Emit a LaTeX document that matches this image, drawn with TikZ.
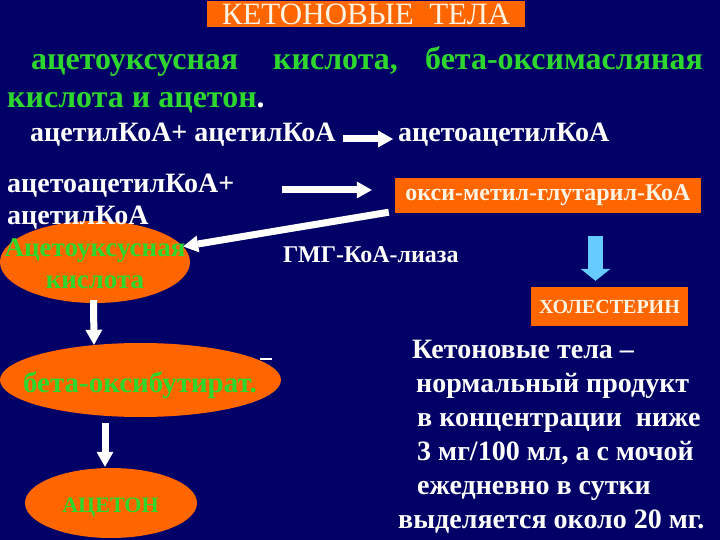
\documentclass[tikz,border=0pt]{standalone}
\usepackage{fontspec}
\setmainfont{Liberation Serif}
\usetikzlibrary{arrows.meta,shapes.geometric,calc}

\definecolor{slidebg}{RGB}{0,0,102}
\definecolor{slideorange}{RGB}{255,102,0}
\definecolor{slidegreen}{RGB}{45,215,45}
\definecolor{cream}{RGB}{255,244,228}
\definecolor{skyarrow}{RGB}{102,204,255}

\newcommand{\txtsize}[1]{\fontsize{#1}{#1}\selectfont}

\tikzset{
  whitetxt/.style={inner sep=0pt, anchor=base west, text=white, font=\bfseries\txtsize{#1}},
  greentxt/.style={inner sep=0pt, anchor=base west, text=slidegreen, font=\bfseries\txtsize{#1}},
  orangebox/.style={fill=slideorange, inner sep=0pt, text=cream},
  orangeell/.style={ellipse, fill=slideorange, inner sep=0pt},
  bigarrow/.style={white, line width=7pt, -{Triangle[width=17pt,length=15pt,line width=0pt]}},
}

\begin{document}
\begin{tikzpicture}[x=1pt,y=-1pt]
\fill[slidebg] (0,0) rectangle (720,540);
\useasboundingbox (0,0) rectangle (720,540);

\node[orangebox, minimum width=318pt, minimum height=26pt, font=\txtsize{31}] at (366,14) (title) {КЕТОНОВЫЕ\ \ ТЕЛА};

% definition
\node[greentxt=32] at (31,70) (defA) {ацетоуксусная};
\node[greentxt=32] at (273,70) (defB) {кислота,};
\node[greentxt=32, anchor=base east] at (703,70) (defC) {бета-оксимасляная};
\node[greentxt=32] at (7,108) (defD) {кислота и ацетон\textcolor{white}{.}};

\node[whitetxt=28] at (30,142) (acetylPair) {ацетилКоА+ ацетилКоА};
\node[whitetxt=28] at (398,142) (acAcCoA) {ацетоацетилКоА};
\draw[bigarrow] ($(acetylPair.base east)+(7,-3)$) -- ($(acAcCoA.base west)+(-5,-3)$);

% left branch
\node[orangeell, minimum width=190pt, minimum height=82pt] at (95,262) (acetoacid) {};
\node[inner sep=0pt, align=center, text=slidegreen, font=\bfseries\fontsize{27}{32}\selectfont] at (95,264) (acetoacidTxt) {Ацетоуксусная\\кислота};

\node[whitetxt=28] at (7,193) (acAcPlus) {ацетоацетилКоА+};
\node[whitetxt=28] at (7,225) (acetylB) {ацетилКоА};

\node[orangebox, minimum width=306pt, minimum height=35pt, font=\bfseries\txtsize{24}] at (548,195.5) (hmgCoA) {окси-метил-глутарил-КоА};
\draw[bigarrow] ($(acAcPlus.base east)+(47,-3)$) -- ($(hmgCoA.west)+(-23,-5.5)$);
\draw[bigarrow] ($(hmgCoA.south west)+(-6,-1)$) -- (acetoacid.10);
\node[whitetxt=24] at (283,262) (lyase) {ГМГ-КоА-лиаза};

\node[orangeell, minimum width=281pt, minimum height=74pt] at (140.5,380) (betaHB) {};
\node[inner sep=0pt, anchor=base, text=slidegreen, font=\bfseries\txtsize{29}] at (140,392) (betaHBTxt) {бета-оксибутират.};
\draw[white, line width=2pt] (260,359) -- (272,359);

\node[orangeell, minimum width=172pt, minimum height=70pt] at (111,503) (acetone) {};
\node[inner sep=0pt, anchor=base, text=slidegreen, font=\bfseries\txtsize{22}] at (110.5,512) (acetoneTxt) {АЦЕТОН};

\draw[bigarrow] ($(acetoacid.south)+(-1.5,-3)$) -- ($(betaHB.north)+(-46.5,2)$);
\draw[bigarrow] ($(betaHB.south)+(-35.5,6)$) -- ($(acetone.north)+(-6,-1)$);

% right branch
\node[orangebox, minimum width=157pt, minimum height=39pt, font=\bfseries\txtsize{20}] at (609.5,306.5) (chol) {ХОЛЕСТЕРИН};
\draw[skyarrow, line width=15pt, -{Triangle[width=30pt,length=12pt,line width=0pt]}] ($(hmgCoA.south)+(47.5,23)$) -- ($(chol.north)+(-14,-6)$);

\node[whitetxt=28] at (412,358) (noteA) {Кетоновые тела –};
\node[whitetxt=28] at (416,392) (noteB) {нормальный продукт};
\node[whitetxt=28] at (417,426) (noteC) {в концентрации\ \ ниже};
\node[whitetxt=28] at (417,460) (noteD) {3 мг/100 мл, а с мочой};
\node[whitetxt=28] at (417,494) (noteE) {ежедневно в сутки};
\node[whitetxt=28] at (398,528) (noteF) {выделяется около 20 мг.};
\end{tikzpicture}
\end{document}
